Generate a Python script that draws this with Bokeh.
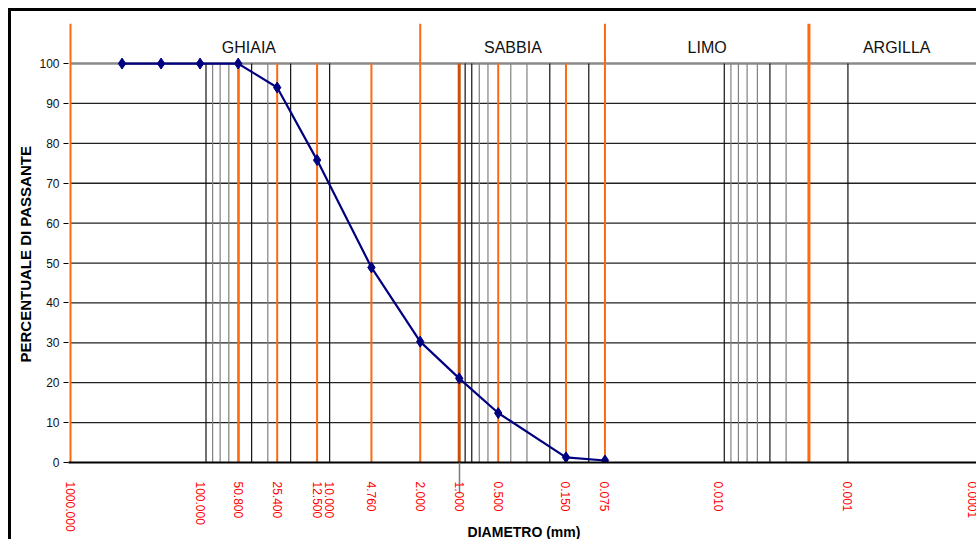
import numpy as np
from bokeh.plotting import figure
from bokeh.models import FixedTicker, Range1d, Title
from bokeh.core.properties import value
from bokeh.embed import file_html
from bokeh.resources import INLINE

# ---- data ----
diam = [400.0, 200.0, 100.0, 50.8, 25.4, 12.5, 4.76, 2.0, 1.0, 0.5, 0.15, 0.075]
passing = [100, 100, 100, 100, 94.0, 75.8, 48.9, 30.3, 21.1, 12.4, 1.3, 0.5]

x_ticks = [1000, 100, 50.8, 25.4, 12.5, 10, 4.76, 2.0, 1.0, 0.5, 0.15, 0.075, 0.01, 0.001, 0.0001]
x_tick_labels = ["1000.000", "100.000", "50.800", "25.400", "12.500", "10.000", "4.760",
                 "2.000", "1.000", "0.500", "0.150", "0.075", "0.010", "0.001", "0.0001"]
y_ticks = [0, 10, 20, 30, 40, 50, 60, 70, 80, 90, 100]

class_names = ["GHIAIA", "SABBIA", "LIMO", "ARGILLA"]
class_label_x = [42.0, 0.385, 0.0122, 0.00042]
class_bounds = [1000, 2.0, 0.075, 0.002, 0.0001]

sieve_lines = [50.8, 25.4, 12.5, 4.76, 0.5, 0.15]
fine_lines = [90, 80, 70, 60, 50, 40, 30, 20, 10,
              0.9, 0.8, 0.7, 0.6, 0.4, 0.3, 0.2, 0.1,
              0.009, 0.008, 0.007, 0.006, 0.005, 0.004, 0.003,
              0.001]
fine_colors = ["#111111", "#808080", "#808080", "#808080", "#808080", "#111111", "#808080", "#111111", "#111111",
               "#111111", "#111111", "#808080", "#808080", "#808080", "#808080", "#111111", "#111111",
               "#111111", "#808080", "#808080", "#808080", "#808080", "#111111", "#808080",
               "#111111"]

FONT = "Liberation Sans"
ORANGE = "#FF6A10"

# ---- geometry (pixels per decade) ----
ppd = 907 / 7.0
x_start = 1000 * 10 ** (2 / ppd)
x_end = 0.0001 / 10 ** (2 / ppd)
y_top = 110.8

p = figure(width=968, height=531, x_axis_type="log",
           x_range=Range1d(x_start, x_end), y_range=Range1d(0, y_top),
           output_backend="svg", toolbar_location=None, margin=(8, 0, 0, 8),
           min_border_left=57, min_border_right=0, min_border_top=9, min_border_bottom=80)
p.styles = {"border-top": "3px solid black", "border-left": "3px solid black"}
p.outline_line_color = None
p.xgrid.visible = False
p.ygrid.visible = False
p.background_fill_color = "white"

# horizontal grid lines
hy = [v for v in y_ticks if 0 < v < 100]
p.segment(x0=[x_ticks[0]] * len(hy), y0=hy, x1=[x_ticks[-1]] * len(hy), y1=hy,
          line_color="#222222", line_width=1.3)
p.segment(x0=[x_ticks[0]], y0=[100], x1=[x_ticks[-1]], y1=[100],
          line_color="#8a8a8a", line_width=2.5)

# fine vertical lines
p.segment(x0=fine_lines, y0=[0] * len(fine_lines), x1=fine_lines, y1=[100] * len(fine_lines),
          line_color=fine_colors, line_width=1.2)

# orange sieve lines
p.segment(x0=sieve_lines, y0=[0] * len(sieve_lines), x1=sieve_lines, y1=[100] * len(sieve_lines),
          line_color=ORANGE, line_width=2)
p.segment(x0=[1.0], y0=[0], x1=[1.0], y1=[100], line_color="#C8500A", line_width=3)
# class boundaries
p.segment(x0=class_bounds, y0=[0] * len(class_bounds), x1=class_bounds, y1=[110] * len(class_bounds),
          line_color=ORANGE, line_width=[2, 2, 2, 3, 3])

# class labels
p.text(x=class_label_x, y=[104.0] * 4, text=class_names, text_font=value(FONT),
       text_font_size="16px", text_align="center", text_baseline="alphabetic", text_color="#111111")

# data
p.line(diam, passing, line_color="#000080", line_width=2.2)
p.scatter(diam, passing, marker="diamond", size=11, fill_color="#000080", line_color="#000080")

# x axis
xa = p.xaxis[0]
xa.ticker = FixedTicker(ticks=x_ticks, minor_ticks=[1.0, 0.0001])
xa.major_label_overrides = {t: l for t, l in zip(x_ticks, x_tick_labels)}
xa.major_label_orientation = "vertical"
xa.major_label_text_color = "#FF0000"
xa.major_label_text_font = FONT
xa.major_label_text_font_size = "12px"
xa.major_label_standoff = -12
xa.major_tick_out = 0
xa.major_tick_in = 0
xa.minor_tick_out = 31
xa.minor_tick_in = 0
xa.minor_tick_line_color = "#7a7a7a"
xa.minor_tick_line_width = 1.5
xa.axis_line_color = "black"
xa.axis_line_width = 2
xa.axis_label = "DIAMETRO (mm)"
xa.axis_label_text_font = FONT
xa.axis_label_text_font_size = "14px"
xa.axis_label_text_font_style = "bold"
xa.axis_label_text_color = "black"
xa.axis_label_standoff = -11

# y axis
ya = p.yaxis[0]
ya.ticker = FixedTicker(ticks=y_ticks, minor_ticks=[])
ya.axis_line_color = None
ya.major_tick_out = 5
ya.major_tick_in = 0
ya.major_tick_line_color = "black"
ya.major_label_text_font = FONT
ya.major_label_text_font_size = "12px"
ya.major_label_text_color = "#111111"
ya.major_label_standoff = 4

# y axis title
p.add_layout(Title(text="PERCENTUALE DI PASSANTE", align="left", offset=100, standoff=5,
                   text_font=FONT, text_font_size="15px", text_font_style="bold",
                   text_color="black"), "left")

open("out.html", "w").write(file_html(p, INLINE))
